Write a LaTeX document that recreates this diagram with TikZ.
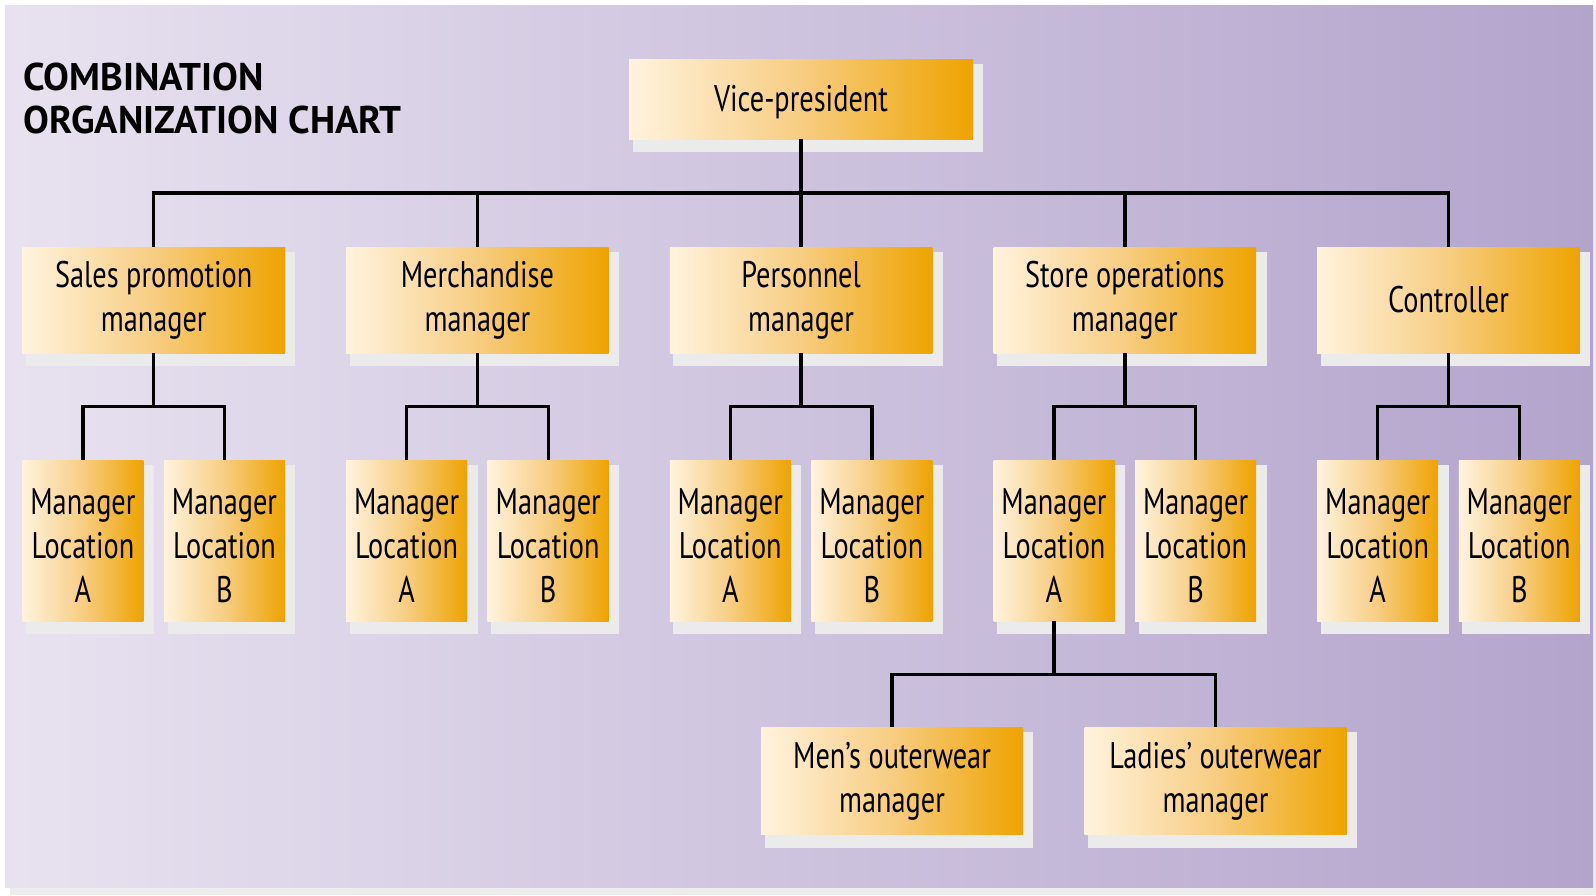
\documentclass[tikz,border=0pt]{standalone}
\usepackage{fontspec}
\setmainfont{PT Sans}[FakeStretch=0.765]
\newfontfamily\titlefont{PT Sans}
\usetikzlibrary{calc}
\definecolor{bgL}{HTML}{E8E2F0}
\definecolor{bgR}{HTML}{B3A4CC}
\definecolor{boxL}{HTML}{FFF3DE}
\definecolor{boxM}{HTML}{F7CD82}
\definecolor{boxR}{HTML}{EEA300}
\definecolor{shadowc}{HTML}{EBEBEB}
\definecolor{pageshadow}{HTML}{EDEDED}
\pgfdeclarehorizontalshading{boxshade}{100bp}{color(0bp)=(boxL); color(25bp)=(boxL); color(50bp)=(boxM); color(75bp)=(boxR); color(100bp)=(boxR)}
\pgfdeclarelayer{bg}
\pgfdeclarelayer{shade}
\pgfsetlayers{bg,shade,main}
\newcommand\loctext[1]{\rule{0pt}{18pt}Manager\\Location\\#1}
\begin{document}
\begin{tikzpicture}[x=0.5pt,y=-0.5pt,
  box/.style={shading=boxshade, inner sep=0pt, align=center, text=black,
    font=\fontsize{18.5}{22}\selectfont},
  topbox/.style={box, minimum width=172pt, minimum height=40pt,
    text height=16.3pt, text depth=4pt},
  midbox/.style={box, minimum width=131.3pt, minimum height=53pt},
  locbox/.style={box, minimum width=60.5pt, minimum height=80.5pt},
  lowbox/.style={box, minimum width=131pt, minimum height=53.5pt},
  titletext/.style={anchor=base west, inner sep=0pt, text=black,
    font=\titlefont\fontsize{19.3}{23}\selectfont\bfseries},
  conn/.style={draw=black, line width=1.7pt}
]
\useasboundingbox (0,0) rectangle (1596,895);
\begin{pgfonlayer}{bg}
  \fill[white] (0,0) rectangle (1596,895);
  \fill[pageshadow] (10,10) rectangle (1596,895);
  \shade[left color=bgL, right color=bgR] (5,5) rectangle (1593,887);
\end{pgfonlayer}

\node[titletext] (title1) at (23,90) {COMBINATION};
\node[titletext] (title2) at (23,133) {ORGANIZATION CHART};

\node[topbox] (vp) at (801,99) {Vice-president};

\node[midbox] (sp) at (153.7,300) {Sales promotion\\manager};
\node[midbox] (mm) at (477.4,300) {Merchandise\\manager};
\node[midbox] (pm) at (801.1,300) {Personnel\\manager};
\node[midbox] (so) at (1124.8,300) {Store operations\\manager};
\node[midbox] (ct) at (1448.5,300) {Controller};

\foreach \p/\x in {sp/153.7, mm/477.4, pm/801.1, so/1124.8, ct/1448.5}{
  \node[locbox] (\p A) at (\x-70.8,540.5) {\loctext{A}};
  \node[locbox] (\p B) at (\x+70.8,540.5) {\loctext{B}};
}

\node[lowbox] (mo) at (892,781.3) {Men’s outerwear\\manager};
\node[lowbox] (lo) at (1215.5,781.3) {Ladies’ outerwear\\manager};

\begin{pgfonlayer}{shade}
  \foreach \n in {vp,sp,mm,pm,so,ct,spA,spB,mmA,mmB,pmA,pmB,soA,soB,ctA,ctB,mo,lo}{
    \fill[shadowc] ([shift={(4,5)}]\n.north west) rectangle ([shift={(10,13)}]\n.south east);
  }
\end{pgfonlayer}

\foreach \c in {sp,mm,pm,so,ct}{
  \draw[conn] (vp.south) |- ($(vp.south)!.5!(\c.north)$) -| (\c.north);
  \draw[conn] (\c.south) |- ($(\c.south)!.5!(\c A.north)$) -| (\c A.north);
  \draw[conn] (\c.south) |- ($(\c.south)!.5!(\c B.north)$) -| (\c B.north);
}
\draw[conn] (soA.south) |- ($(soA.south)!.5!(mo.north)$) -| (mo.north);
\draw[conn] (soA.south) |- ($(soA.south)!.5!(lo.north)$) -| (lo.north);
\end{tikzpicture}
\end{document}
